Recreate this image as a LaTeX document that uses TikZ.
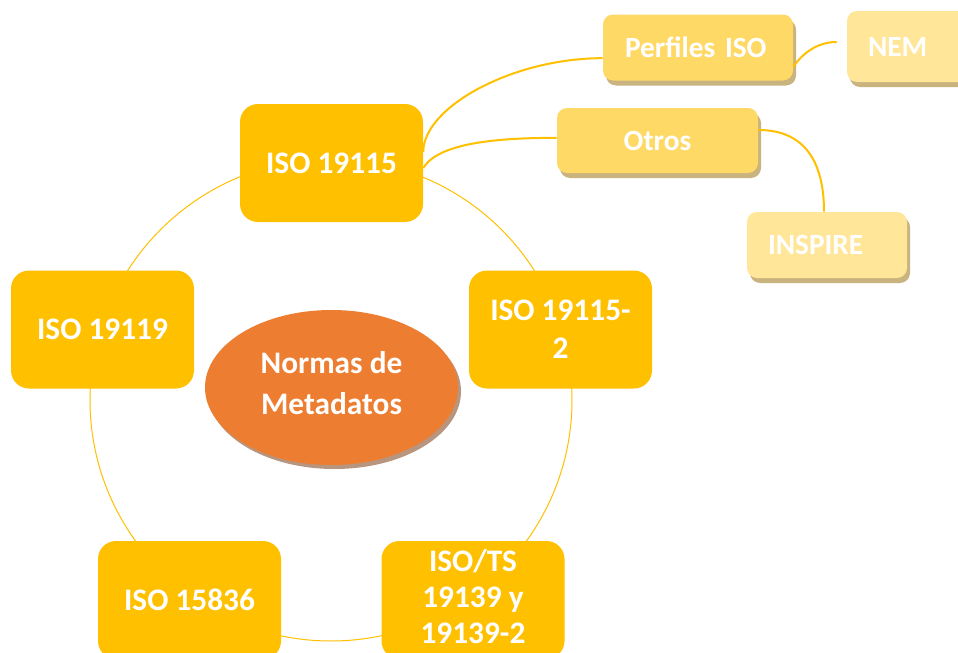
\documentclass[tikz,border=0pt]{standalone}
\usepackage{fontspec}
\setmainfont{Carlito}
\usetikzlibrary{shadows,shapes.geometric}
\definecolor{gold}{HTML}{FFC000}
\definecolor{goldlt}{HTML}{FFD966}
\definecolor{goldxl}{HTML}{FFE699}
\definecolor{orng}{HTML}{ED7D31}
\definecolor{shad}{HTML}{C9B37E}
\definecolor{eshad}{HTML}{B8957E}
\begin{document}
\begin{tikzpicture}[x=0.75pt,y=-0.75pt,
  mainbox/.style={fill=gold, rounded corners=13.5pt, minimum width=137.25pt, minimum height=88.5pt,
    text=white, font=\bfseries\fontsize{23.5}{28.5}\selectfont, align=center, inner sep=2pt},
  subbox/.style={rounded corners=7.5pt, text=white, font=\bfseries\fontsize{22}{26}\selectfont,
    general shadow={shadow xshift=2.25pt, shadow yshift=-3.75pt, fill=shad, rounded corners=7.5pt}},
  link/.style={draw=gold, line width=1.5pt},
  ring/.style={draw=gold, line width=0.75pt}
]
\fill[white] (0,0) rectangle (958,653);
\useasboundingbox (0,0) rectangle (958,653);

% ring
\draw[ring] (331,400) circle [radius=180.75pt];

% main boxes
\node[mainbox] (iso19115) at (331.5,163) {ISO 19115};
\node[mainbox] (iso191152) at (560.5,329.5) {ISO 19115-\\2};
\node[mainbox, font=\bfseries\fontsize{23.5}{27}\selectfont] (iso19139) at (473,600) {};
\node[text=white, font=\bfseries\fontsize{23.5}{27}\selectfont, align=center] (iso19139lbl) at (473,597) {ISO/TS\\19139 y\\19139-2};
\node[mainbox] (iso15836) at (189.5,600) {ISO 15836};
\node[mainbox] (iso19119) at (102.5,329.5) {ISO 19119};

% center ellipse
\node[ellipse, fill=orng, minimum width=189.75pt, minimum height=116.25pt, inner sep=0pt,
  general shadow={shadow xshift=2.25pt, shadow yshift=-3pt, fill=eshad}]
  (normas) at (331.5,387.5) {};
\node[text=white, font=\bfseries\fontsize{23.5}{31}\selectfont, align=center]
  (normaslbl) at (331.5,383) {Normas de\\Metadatos};

% sub boxes
\node[subbox, fill=goldlt, minimum height=49.5pt, text width=109.5pt, inner xsep=16.5pt, align=left]
  (perfiles) at (698,47.5) {Perfiles ISO};
\node[subbox, fill=goldxl, minimum height=53.25pt, text width=111pt, inner xsep=15.75pt, align=left]
  (nem) at (942,46.5) {NEM};
\node[subbox, fill=goldlt, minimum width=150.75pt, minimum height=48.75pt, align=center]
  (otros) at (657.5,140.5) {Otros};
\node[subbox, fill=goldxl, minimum height=49.5pt, text width=88.5pt, inner xsep=15.75pt, align=left]
  (inspire) at (827,245) {INSPIRE};

% connectors
\draw[link] ([yshift=8.25pt]iso19115.east) .. controls +(0,-45) and +(-90,0) .. ([yshift=-8pt]perfiles.west);
\draw[link] ([yshift=-3.75pt]iso19115.east) .. controls +(15,-25) and +(-60,0) .. ([yshift=2pt]otros.west);
\draw[link] ([yshift=-14.6pt]perfiles.east) .. controls +(10,-15) and +(-18,0) .. ([xshift=-7.5pt,yshift=3.4pt]nem.west);
\draw[link] ([yshift=7.9pt]otros.east) .. controls +(50,0) and +(0,-45) .. ([xshift=-2.25pt]inspire.north);
\end{tikzpicture}
\end{document}
